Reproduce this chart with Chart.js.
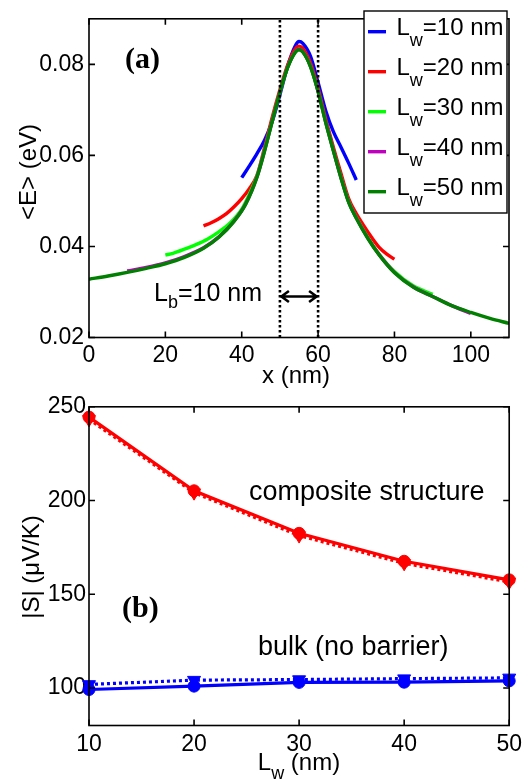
<!DOCTYPE html>
<html>
<head>
<meta charset="utf-8">
<script src="https://cdn.jsdelivr.net/npm/chart.js@4/dist/chart.umd.min.js"></script>
<style>
  html, body { margin: 0; padding: 0; background: #fff; }
  #wrap { position: relative; width: 527px; height: 781px; overflow: hidden; }
  canvas { position: absolute; left: 0; }
  #topChart { top: 0; }
  #botChart { top: 390px; }
</style>
</head>
<body>
<div id="wrap">
  <canvas id="topChart" width="527" height="390" style="width:527px;height:390px"></canvas>
  <canvas id="botChart" width="527" height="391" style="width:527px;height:391px"></canvas>
</div>
<script>
// ---------- (a) average energy <E> along x ----------
const x10 = [40, 42, 44, 46, 48, 50, 52, 54, 55, 56, 58, 60, 62, 64, 66, 68, 70];
const e10 = [0.0551, 0.0577, 0.0604, 0.0634, 0.0675, 0.0733, 0.0795, 0.0840, 0.0850, 0.0846, 0.0818, 0.0760, 0.0698, 0.0652, 0.0618, 0.0583, 0.0546];

const x20 = [30, 32, 34, 36, 38, 40, 42, 44, 46, 48, 50, 52, 54, 55, 56, 58, 60, 62, 64, 66, 68, 70, 72, 74, 76, 78, 80];
const e20 = [0.0445, 0.0452, 0.0461, 0.0472, 0.0487, 0.0505, 0.0527, 0.0556, 0.0618, 0.0684, 0.0744, 0.0798, 0.0834, 0.0840, 0.0835, 0.0803, 0.0748, 0.0680, 0.0618, 0.0560, 0.0505, 0.0472, 0.0445, 0.0420, 0.0398, 0.0383, 0.0372];

const x30 = [20, 22, 25, 28, 31, 34, 37, 40, 42, 44, 46, 48, 50, 52, 54, 55, 56, 58, 60, 62, 64, 66, 68, 70, 73, 76, 80, 85, 90];
const e30 = [0.0381, 0.0385, 0.0394, 0.0404, 0.0416, 0.0432, 0.0452, 0.0482, 0.0515, 0.0555, 0.0613, 0.0677, 0.0739, 0.0793, 0.0827, 0.0833, 0.0828, 0.0796, 0.0741, 0.0673, 0.0611, 0.0552, 0.0499, 0.0464, 0.0420, 0.0383, 0.0345, 0.0313, 0.0295];

const x40 = [10, 15, 20, 25, 30, 34, 38, 41, 44, 46, 48, 50, 52, 54, 55, 56, 58, 60, 62, 64, 66, 68, 70, 73, 76, 80, 85, 90, 95, 100];
const e40 = [0.0346, 0.0354, 0.0364, 0.0378, 0.0397, 0.0421, 0.0456, 0.0493, 0.0553, 0.0611, 0.0676, 0.0739, 0.0793, 0.0827, 0.0833, 0.0828, 0.0796, 0.0741, 0.0673, 0.0611, 0.0551, 0.0498, 0.0463, 0.0419, 0.0382, 0.0343, 0.0311, 0.0290, 0.0270, 0.0253];

const x50 = [0, 5, 10, 15, 20, 25, 30, 34, 38, 41, 44, 46, 48, 50, 52, 54, 55, 56, 58, 60, 62, 64, 66, 68, 70, 73, 76, 80, 85, 90, 95, 100, 105, 110];
const e50 = [0.0328, 0.0335, 0.0343, 0.0352, 0.0362, 0.0376, 0.0396, 0.0420, 0.0455, 0.0492, 0.0552, 0.0610, 0.0675, 0.0738, 0.0792, 0.0826, 0.0832, 0.0827, 0.0795, 0.0740, 0.0672, 0.0610, 0.0550, 0.0497, 0.0462, 0.0418, 0.0381, 0.0342, 0.0310, 0.0290, 0.0270, 0.0255, 0.0242, 0.0231];

const wellLabels = ['10', '20', '30', '40', '50'];
const curveColors = ['#0000ff', '#ff0000', '#00ff00', '#bf00bf', '#008000'];

const barrierEdges = [50, 60];   // barrier between x = 50 and 60 nm
const barrierWidth = '10';
const arrowLevel = 0.029;

const xTicksA = [0, 20, 40, 60, 80, 100];
const yTicksA = [0.02, 0.04, 0.06, 0.08];

// ---------- (b) Seebeck coefficient vs well width ----------
const wellWidths = [10, 20, 30, 40, 50];
const compositeSolid = [244.5, 205.2, 182.5, 167.6, 157.7];
const compositeDotted = [243.3, 204.2, 181.3, 166.5, 156.6];
const bulkSolid = [99.2, 101.0, 103.0, 103.1, 103.8];
const bulkDotted = [101.9, 104.2, 104.5, 105.0, 105.4];

const xTicksB = [10, 20, 30, 40, 50];
const yTicksB = [100, 150, 200, 250];

const SANS = '"Liberation Sans", Arial, Helvetica, sans-serif';
const SERIF = '"Liberation Serif", "Times New Roman", serif';

const pts = (xs, ys) => xs.map((v, i) => ({ x: v, y: ys[i] }));

// draws a sequence of text runs [text, font, dy] starting at (x, y)
function drawRuns(ctx, x, y, parts) {
  let cx = x;
  for (const [t, f, dy] of parts) {
    ctx.font = f;
    ctx.fillText(t, cx, y + dy);
    cx += ctx.measureText(t).width;
  }
  return cx;
}
function runsWidth(ctx, parts) {
  let w = 0;
  for (const [t, f] of parts) { ctx.font = f; w += ctx.measureText(t).width; }
  return w;
}

// box around the axes with inward tick marks on all four sides
function drawFrame(chart) {
  const { ctx, chartArea: a, scales: { x, y } } = chart;
  const L = 6;
  ctx.save();
  ctx.strokeStyle = '#000';
  ctx.lineWidth = 1.6;
  ctx.strokeRect(a.left, a.top, a.right - a.left, a.bottom - a.top);
  ctx.beginPath();
  x.ticks.forEach(t => {
    const p = x.getPixelForValue(t.value);
    ctx.moveTo(p, a.bottom); ctx.lineTo(p, a.bottom - L);
    ctx.moveTo(p, a.top); ctx.lineTo(p, a.top + L);
  });
  y.ticks.forEach(t => {
    const p = y.getPixelForValue(t.value);
    ctx.moveTo(a.left, p); ctx.lineTo(a.left + L, p);
    ctx.moveTo(a.right, p); ctx.lineTo(a.right - L, p);
  });
  ctx.stroke();
  ctx.restore();
}

const tickFont = { family: SANS, size: 23 };

function axisOpts(min, max, tickVals, fmt, fitFn, pad) {
  return {
    type: 'linear', min, max,
    afterBuildTicks: s => { s.ticks = tickVals.map(v => ({ value: v })); },
    afterFit: fitFn,
    grid: { display: false, drawTicks: false },
    border: { display: false },
    ticks: { font: tickFont, color: '#000', padding: pad, maxRotation: 0, autoSkip: false, callback: fmt }
  };
}

// ---------------- chart (a) ----------------
const topDatasets = [x10, x20, x30, x40, x50].map((xs, i) => ({
  label: 'Lw=' + wellLabels[i] + ' nm',
  data: pts(xs, [e10, e20, e30, e40, e50][i]),
  borderColor: curveColors[i],
  borderWidth: 3.4,
  pointRadius: 0,
  cubicInterpolationMode: 'monotone',
  fill: false,
  order: 5 - i
}));
barrierEdges.forEach(xb => {
  topDatasets.push({
    data: [{ x: xb, y: 0.02 }, { x: xb, y: 0.09 }],
    borderColor: '#000',
    borderWidth: 2.6,
    borderDash: [2.6, 2.4],
    pointRadius: 0,
    fill: false,
    order: 0
  });
});

const topDecor = {
  id: 'topDecor',
  afterDraw(chart) {
    drawFrame(chart);
    const { ctx, scales: { x, y } } = chart;
    ctx.save();
    ctx.fillStyle = '#000';
    ctx.textBaseline = 'alphabetic';
    ctx.textAlign = 'left';

    // panel tag
    ctx.font = 'bold 30px ' + SERIF;
    ctx.fillText('(a)', 125, 68);

    // legend
    const bx = 364, by = 11, bw = 143, bh = 202;
    ctx.fillStyle = '#fff';
    ctx.fillRect(bx, by, bw, bh);
    ctx.strokeStyle = '#000';
    ctx.lineWidth = 1.4;
    ctx.strokeRect(bx, by, bw, bh);
    wellLabels.forEach((lab, i) => {
      const ly = 31.7 + 40 * i;
      ctx.strokeStyle = curveColors[i];
      ctx.lineWidth = 3.4;
      ctx.beginPath(); ctx.moveTo(368, ly); ctx.lineTo(386, ly); ctx.stroke();
      ctx.fillStyle = '#000';
      drawRuns(ctx, 396.5, ly + 3.5, [
        ['L', '24px ' + SANS, 0],
        ['w', '18px ' + SANS, 11],
        ['=' + lab + ' nm', '24px ' + SANS, 0]
      ]);
    });

    // barrier width annotation
    const xa = x.getPixelForValue(barrierEdges[0]);
    const xb = x.getPixelForValue(barrierEdges[1]);
    const ya = y.getPixelForValue(arrowLevel);
    ctx.fillStyle = '#000';
    drawRuns(ctx, 154, 301, [
      ['L', '25px ' + SANS, 0],
      ['b', '18px ' + SANS, 7],
      ['=' + barrierWidth + ' nm', '25px ' + SANS, 0]
    ]);
    ctx.strokeStyle = '#000';
    ctx.lineWidth = 2.6;
    ctx.beginPath();
    ctx.moveTo(xa + 1, ya); ctx.lineTo(xb - 1, ya);
    ctx.moveTo(xa + 9, ya - 5.5); ctx.lineTo(xa + 1.5, ya); ctx.lineTo(xa + 9, ya + 5.5);
    ctx.moveTo(xb - 9, ya - 5.5); ctx.lineTo(xb - 1.5, ya); ctx.lineTo(xb - 9, ya + 5.5);
    ctx.stroke();

    // axis titles
    ctx.font = '24px ' + SANS;
    ctx.textAlign = 'center';
    ctx.fillText('x (nm)', 296, 383);
    ctx.save();
    ctx.translate(36, 172);
    ctx.rotate(-Math.PI / 2);
    ctx.fillText('<E> (eV)', 0, 0);
    ctx.restore();
    ctx.restore();
  }
};

new Chart(document.getElementById('topChart'), {
  type: 'line',
  data: { datasets: topDatasets },
  options: {
    responsive: false,
    animation: false,
    events: [],
    layout: { padding: { left: 0, right: 18, top: 7, bottom: 0 } },
    plugins: { legend: { display: false }, tooltip: { enabled: false } },
    scales: {
      x: axisOpts(0, 110, xTicksA, v => String(v), s => { s.height = 52.5; }, 4),
      y: axisOpts(0.02, 0.09, yTicksA, v => Number(v).toFixed(2), s => { s.width = 89; }, 5)
    }
  },
  plugins: [topDecor]
});

// ---------------- chart (b) ----------------
const seriesB = [
  { ys: compositeSolid, color: '#ff0000', style: 'circle', rot: 0, dash: [] },
  { ys: compositeDotted, color: '#ff0000', style: 'triangle', rot: 180, dash: [3, 3] },
  { ys: bulkSolid, color: '#0000ff', style: 'circle', rot: 0, dash: [] },
  { ys: bulkDotted, color: '#0000ff', style: 'triangle', rot: 180, dash: [3, 3] }
];
const botDatasets = seriesB.map(s => ({
  data: pts(wellWidths, s.ys),
  borderColor: s.color,
  backgroundColor: s.color,
  borderWidth: 3.2,
  borderDash: s.dash,
  pointStyle: s.style,
  pointRotation: s.rot,
  pointRadius: s.style === 'circle' ? 6 : 7.5,
  pointBorderWidth: 1,
  tension: 0,
  fill: false,
  clip: false
}));

const botDecor = {
  id: 'botDecor',
  afterDraw(chart) {
    drawFrame(chart);
    const { ctx } = chart;
    ctx.save();
    ctx.fillStyle = '#000';
    ctx.textBaseline = 'alphabetic';
    ctx.textAlign = 'left';
    ctx.font = 'bold 30px ' + SERIF;
    ctx.fillText('(b)', 122, 227);
    ctx.font = '27px ' + SANS;
    ctx.fillText('composite structure', 249, 110);
    ctx.fillText('bulk (no barrier)', 258, 265);

    // x title with subscript
    const xt = [['L', '24px ' + SANS, 0], ['w', '18px ' + SANS, 9], [' (nm)', '24px ' + SANS, 0]];
    drawRuns(ctx, 299 - runsWidth(ctx, xt) / 2, 380, xt);

    // y title
    ctx.font = '24px ' + SANS;
    ctx.textAlign = 'center';
    ctx.translate(39, 177);
    ctx.rotate(-Math.PI / 2);
    ctx.fillText('|S| (\u03bcV/K)', 0, 0);
    ctx.restore();
  }
};

new Chart(document.getElementById('botChart'), {
  type: 'line',
  data: { datasets: botDatasets },
  options: {
    responsive: false,
    animation: false,
    events: [],
    layout: { padding: { left: 0, right: 16, top: 16, bottom: 0 } },
    plugins: { legend: { display: false }, tooltip: { enabled: false } },
    scales: {
      x: axisOpts(10, 50, xTicksB, v => String(v), s => { s.height = 55.5; }, 5),
      y: axisOpts(80, 250, yTicksB, v => String(v), s => { s.width = 89; }, 3)
    }
  },
  plugins: [botDecor]
});
</script>
</body>
</html>
